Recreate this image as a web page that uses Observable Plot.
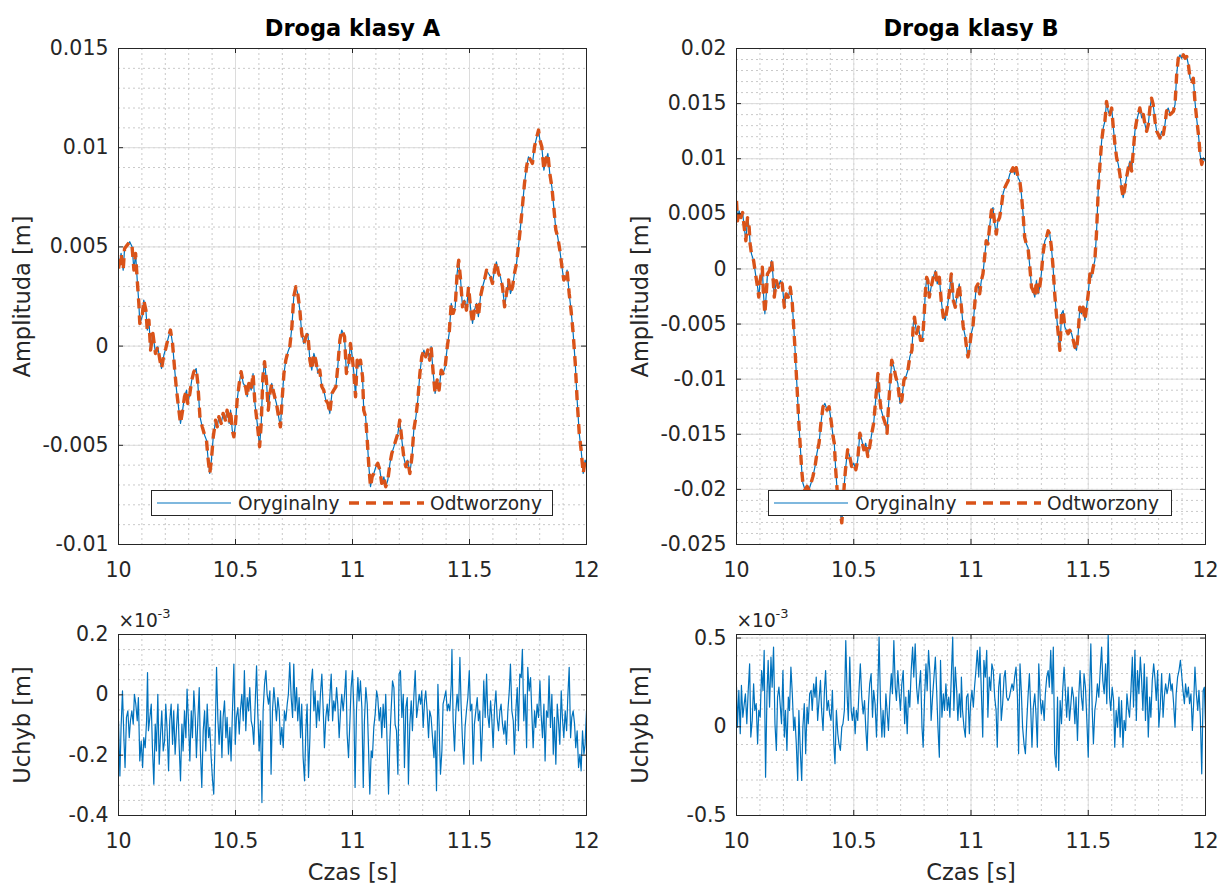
<!DOCTYPE html>
<html lang="pl">
<head>
<meta charset="utf-8">
<title>Droga klasy A i B – sygnał oryginalny, odtworzony i uchyb</title>
<script src="https://cdn.jsdelivr.net/npm/d3@7"></script>
<script src="https://cdn.jsdelivr.net/npm/@observablehq/plot@0.6"></script>
<style>
  html, body { margin: 0; background: #fff; }
  #figure { position: relative; width: 1219px; height: 884px; overflow: hidden; background: #fff; font-family: "DejaVu Sans", sans-serif; color: #262626; }
  #figure > svg { position: absolute; overflow: visible; }
  .legend { position: absolute; box-sizing: border-box; height: 26px; border: 1px solid #262626; background: #fff; }
  .legend svg { position: absolute; left: 0; top: 0; overflow: visible; }
</style>
</head>
<body>
<div id="figure"></div>
<script>
// ---- series names and axis ticks ----
const serie = ["Oryginalny", "Odtworzony"];
const tytuly = ["Droga klasy A", "Droga klasy B"];

const czasTicks = [10, 10.5, 11, 11.5, 12];
const czasTickLabels = ["10", "10.5", "11", "11.5", "12"];

// amplitude values are kept in millimetres; tick labels are given in metres
const amplitudaTicksA = [-10, -5, 0, 5, 10, 15];
const amplitudaLabelsA = ["-0.01", "-0.005", "0", "0.005", "0.01", "0.015"];
const amplitudaTicksB = [-25, -20, -15, -10, -5, 0, 5, 10, 15, 20];
const amplitudaLabelsB = ["-0.025", "-0.02", "-0.015", "-0.01", "-0.005", "0", "0.005", "0.01", "0.015", "0.02"];

// error values are in units of 1e-3 m
const uchybTicksA = [-0.4, -0.2, 0, 0.2];
const uchybLabelsA = ["-0.4", "-0.2", "0", "0.2"];
const uchybTicksB = [-0.5, 0, 0.5];
const uchybLabelsB = ["-0.5", "0", "0.5"];

// ---- road class A: time [s] and amplitude [mm] ----
const czasA = [
10.000,10.011,10.020,10.026,10.037,10.048,10.058,10.066,10.073,10.080,
10.087,10.091,10.101,10.108,10.117,10.123,10.130,10.137,10.147,10.158,
10.168,10.177,10.184,10.194,10.202,10.212,10.222,10.231,10.239,10.248,
10.258,10.265,10.274,10.282,10.291,10.296,10.305,10.313,10.322,10.332,
10.339,10.348,10.358,10.368,10.376,10.382,10.390,10.397,10.405,10.415,
10.422,10.429,10.439,10.447,10.457,10.464,10.473,10.479,10.486,10.493,
10.500,10.507,10.516,10.524,10.533,10.543,10.550,10.557,10.567,10.575,
10.583,10.593,10.603,10.610,10.617,10.624,10.632,10.640,10.647,10.655,
10.664,10.675,10.684,10.692,10.699,10.707,10.715,10.724,10.732,10.741,
10.749,10.758,10.766,10.775,10.783,10.792,10.801,10.809,10.818,10.826,
10.835,10.843,10.852,10.860,10.869,10.877,10.886,10.895,10.903,10.912,
10.920,10.929,10.937,10.946,10.954,
10.966,10.974,10.984,10.991,10.999,11.006,11.013,11.020,11.027,11.034,
11.043,11.048,11.056,11.063,11.070,11.077,11.084,11.091,11.100,11.108,
11.117,11.125,11.134,11.142,11.151,11.160,11.168,11.177,11.185,11.194,
11.202,11.211,11.219,11.228,11.236,11.245,11.254,11.262,11.271,11.279,
11.288,11.296,11.305,11.313,11.322,11.330,11.336,11.345,11.353,11.362,
11.370,11.379,11.387,11.396,11.405,11.413,11.422,11.430,11.439,11.447,
11.454,11.462,11.470,11.479,11.487,11.496,11.504,11.513,11.521,11.530,
11.538,11.547,11.556,11.564,11.573,11.581,11.590,11.598,11.607,11.615,
11.624,11.632,11.641,11.650,11.658,11.667,11.675,11.684,11.692,11.701,
11.709,11.718,11.726,11.735,11.744,11.752,11.761,11.769,11.778,11.786,
11.795,11.801,11.809,11.818,11.826,11.835,11.843,11.852,11.860,11.869,
11.877,11.886,11.895,11.903,11.912,11.917,11.926,11.934,11.943,11.952,
11.960,11.969,11.977,11.986,11.994,12.000];
const oryginalnyA = [
3.91,4.67,3.83,4.92,5.09,5.26,5.01,3.83,4.67,3.33,
2.15,1.14,1.48,2.32,1.81,0.81,1.31,-0.20,0.64,-0.37,
-0.03,-0.71,-1.13,-0.45,-0.12,0.39,0.81,0.13,-1.04,-2.22,
-3.23,-3.90,-3.23,-2.55,-2.22,-2.89,-2.39,-1.71,-1.29,-1.13,
-1.88,-3.56,-4.07,-4.49,-4.74,-5.58,-6.42,-5.75,-4.57,-3.73,
-4.07,-3.56,-3.90,-3.39,-3.73,-3.23,-3.90,-3.23,-4.23,-4.57,
-3.90,-2.72,-1.88,-1.29,-1.88,-2.05,-2.55,-1.88,-2.22,-1.38,
-2.89,-3.90,-5.07,-3.90,-1.55,-0.79,-1.71,-3.23,-2.39,-1.88,
-2.39,-2.89,-3.56,-4.07,-2.72,-1.38,-0.71,-0.29,-0.03,0.97,
2.49,2.99,2.65,1.81,0.64,0.13,0.47,0.64,-0.71,-1.21,
-0.37,-0.71,-1.38,-1.21,-2.05,-2.22,-2.72,-2.89,-3.39,-2.39,
-2.22,-2.05,-1.04,0.30,0.81,
0.47,-1.38,-0.87,0.13,-0.54,-1.38,-2.55,-0.71,-1.04,-0.71,
-1.55,-3.23,-3.56,-4.74,-6.08,-7.09,-6.59,-6.42,-6.08,-5.91,
-6.25,-6.92,-6.59,-7.09,-6.75,-5.91,-5.41,-5.07,-4.74,-4.40,
-3.73,-4.74,-5.58,-6.08,-5.75,-6.42,-5.58,-4.23,-3.56,-2.72,
-1.38,-0.54,-0.20,-0.54,-0.20,-0.71,-0.03,-1.38,-2.39,-1.71,
-2.22,-1.21,-1.38,-1.04,-0.03,0.64,2.15,1.65,1.98,3.66,
4.33,3.33,1.98,2.32,1.81,2.99,1.98,1.14,1.81,2.15,
1.48,2.49,2.99,3.33,3.83,3.66,3.49,3.16,3.83,4.25,
3.66,3.49,2.99,1.98,2.65,3.33,2.65,2.99,3.66,4.17,
5.01,6.01,7.02,8.20,9.04,9.54,9.38,9.21,10.05,10.47,
10.89,10.38,10.05,8.87,9.38,9.71,8.70,8.03,7.02,5.85,
5.51,4.84,4.00,3.33,3.49,3.83,2.65,1.81,0.64,-0.87,
-2.72,-4.40,-5.24,-6.42,-5.75,-5.91];
// the reconstruction follows the original to within the error plotted below
const odtworzonyA = oryginalnyA.slice();

// ---- road class B: time [s] and amplitude [mm] ----
const czasB = [
10.000,10.004,10.011,10.019,10.026,10.033,10.040,10.047,10.054,10.058,
10.064,10.073,10.081,10.090,10.095,10.101,10.110,10.115,10.121,10.127,
10.132,10.141,10.150,10.155,10.161,10.170,10.178,10.187,10.195,10.204,
10.212,10.221,10.229,10.238,10.244,10.249,10.255,10.261,10.266,10.272,
10.278,10.283,10.292,10.301,10.309,10.318,10.326,10.335,10.343,10.352,
10.360,10.369,10.377,10.386,10.395,10.403,10.412,10.417,10.423,10.429,
10.434,10.443,10.449,10.454,10.460,10.466,10.474,10.483,10.491,10.500,
10.509,10.517,10.526,10.534,10.543,10.551,10.560,10.568,10.577,10.585,
10.591,10.597,10.603,10.608,10.617,10.625,10.634,10.642,10.648,10.654,
10.662,10.671,10.679,10.688,10.697,10.705,10.714,10.722,10.731,10.739,
10.748,10.754,10.759,10.768,10.776,10.785,10.793,10.799,10.805,10.811,
10.816,10.822,10.830,10.839,10.848,10.856,10.865,10.873,10.882,10.890,
10.899,10.907,10.916,10.925,10.933,10.942,10.950,10.959,10.967,10.976,
10.984,
10.987,10.994,11.001,11.008,11.015,11.022,11.030,11.037,11.044,11.051,
11.058,11.065,11.072,11.079,11.087,11.094,11.101,11.108,11.115,11.122,
11.129,11.136,11.144,11.151,11.158,11.165,11.172,11.179,11.186,11.193,
11.201,11.208,11.215,11.222,11.229,11.236,11.243,11.251,11.258,11.265,
11.272,11.279,11.286,11.293,11.300,11.307,11.315,11.322,11.329,11.336,
11.343,11.350,11.357,11.364,11.372,11.379,11.386,11.393,11.400,11.407,
11.414,11.421,11.429,11.436,11.443,11.450,11.457,11.464,11.471,11.478,
11.486,11.493,11.500,11.507,11.514,11.521,11.528,11.535,11.543,11.550,
11.557,11.564,11.571,11.578,11.585,11.592,11.600,11.607,11.614,11.621,
11.628,11.635,11.642,11.649,11.656,11.663,11.671,11.678,11.685,11.692,
11.699,11.706,11.713,11.720,11.728,11.735,11.742,11.749,11.756,11.763,
11.770,11.777,11.785,11.792,11.799,11.806,11.813,11.820,11.827,11.834,
11.841,11.849,11.856,11.863,11.870,11.877,11.884,11.891,11.898,11.906,
11.913,11.920,11.927,11.934,11.941,11.948,11.955,11.962,11.970,11.977,
11.984,11.991,12.000];
const oryginalnyB = [
6.17,4.36,5.27,4.66,5.12,3.76,2.56,4.66,3.76,2.26,
1.35,0.75,-0.45,-1.66,-2.56,-1.06,0.15,-2.26,-4.07,-2.26,
-0.45,-0.15,0.75,-0.45,-2.56,-1.06,-1.66,-1.06,-1.36,-3.47,
-2.26,-2.56,-1.66,-3.16,-5.27,-7.08,-9.49,-11.90,-14.00,-16.11,
-18.22,-19.42,-20.03,-19.73,-20.03,-19.42,-18.82,-17.92,-16.71,-15.81,
-14.00,-12.50,-12.20,-12.80,-12.50,-13.70,-15.21,-15.81,-18.22,-20.03,
-21.23,-22.13,-23.04,-21.53,-19.42,-17.92,-16.41,-17.02,-17.92,-17.62,
-18.22,-17.32,-14.91,-15.51,-16.41,-15.81,-17.02,-16.11,-14.91,-14.00,
-12.50,-10.99,-9.49,-11.29,-12.80,-13.40,-14.00,-14.91,-12.50,-10.69,
-8.28,-8.89,-9.79,-10.39,-12.20,-11.90,-10.09,-9.79,-9.19,-7.98,
-7.38,-4.97,-4.37,-5.87,-5.27,-6.48,-6.48,-4.67,-2.26,-0.76,
-1.06,-2.56,-1.66,-0.76,-0.15,-1.36,-0.76,-2.86,-4.37,-4.67,
-3.47,-2.26,-0.45,-2.86,-3.47,-2.26,-1.36,-3.47,-5.27,-6.18,
-7.68,
-7.98,-7.08,-5.87,-5.27,-3.47,-1.66,-1.36,-2.26,-1.06,-0.45,
1.05,2.56,2.26,3.76,5.27,5.57,4.06,3.16,4.36,4.66,
5.57,6.77,7.37,7.68,7.98,8.58,8.88,9.18,8.58,9.18,
8.28,7.98,6.77,4.97,2.86,2.26,1.95,0.15,-1.66,-1.96,
-2.56,-1.06,-2.26,-1.66,-0.45,1.35,2.56,2.86,3.46,3.16,
1.95,0.15,-2.26,-4.07,-5.87,-7.38,-4.07,-3.77,-5.27,-5.57,
-5.87,-5.57,-5.87,-6.48,-7.08,-7.38,-5.87,-3.47,-4.07,-3.47,
-4.67,-3.47,-2.26,-0.45,-0.76,0.15,0.75,3.16,7.37,9.48,
11.59,12.79,13.40,15.20,14.30,14.00,14.60,12.79,11.29,10.08,
9.48,8.58,7.37,6.47,7.37,8.28,9.18,9.78,8.88,10.69,
12.49,13.40,14.00,14.60,13.70,14.00,13.10,12.49,13.10,14.60,
15.50,14.90,13.40,12.49,12.19,11.89,12.49,12.19,13.10,14.30,
14.60,14.00,14.15,14.30,14.90,17.61,19.12,19.42,19.12,19.42,
19.12,19.27,18.52,17.31,17.01,17.31,15.20,13.70,12.19,10.39,
9.48,10.08,9.78];
const odtworzonyB = oryginalnyB.slice();

// ---- error, class A: time [s] and value [1e-3 m] ----
const czasUchybA = [
10.000,10.006,10.011,10.017,10.023,10.028,10.034,10.040,10.046,10.051,
10.057,10.063,10.068,10.074,10.080,10.085,10.091,10.097,10.103,10.108,
10.114,10.120,10.124,10.128,10.134,10.140,10.145,10.151,10.157,10.162,
10.168,10.174,10.179,10.185,10.191,10.197,10.202,10.208,10.214,10.219,
10.225,10.231,10.236,10.242,10.248,10.254,10.259,10.265,10.271,10.276,
10.282,10.288,10.293,10.299,10.305,10.311,10.316,10.322,10.328,10.333,
10.339,10.345,10.350,10.356,10.362,10.368,10.373,10.379,10.385,10.390,
10.396,10.402,10.407,10.413,10.419,10.425,10.430,10.436,10.442,10.447,
10.453,10.459,10.464,10.470,10.476,10.481,10.487,10.493,10.499,10.504,
10.510,10.516,10.521,10.527,10.533,10.538,10.544,10.550,10.556,10.561,
10.567,10.573,10.578,10.584,10.590,10.595,10.601,10.607,10.613,10.618,
10.624,10.630,10.635,10.641,10.647,10.652,10.658,10.664,10.670,10.675,
10.681,10.687,10.692,10.698,10.704,10.709,10.715,10.721,10.726,10.732,
10.738,10.744,10.749,10.755,10.761,10.766,10.772,10.778,10.783,10.789,
10.795,10.801,10.806,10.812,10.818,10.823,10.829,10.835,10.840,10.846,
10.852,10.858,10.863,10.869,10.875,10.880,10.886,10.892,10.897,10.903,
10.909,10.915,10.920,10.926,10.932,10.937,10.943,10.949,10.954,
10.960,10.966,10.972,10.977,10.983,10.989,10.994,11.000,11.006,11.011,
11.017,11.023,11.028,11.034,11.040,11.046,11.051,11.057,11.063,11.068,
11.074,11.080,11.085,11.091,11.097,11.103,11.108,11.114,11.120,11.125,
11.131,11.137,11.142,11.148,11.154,11.160,11.165,11.171,11.177,11.182,
11.188,11.194,11.199,11.205,11.211,11.217,11.222,11.228,11.234,11.239,
11.245,11.251,11.256,11.262,11.268,11.274,11.279,11.285,11.291,11.296,
11.302,11.308,11.313,11.319,11.325,11.330,11.336,11.342,11.348,11.353,
11.359,11.365,11.370,11.376,11.382,11.387,11.393,11.399,11.405,11.410,
11.416,11.422,11.425,11.430,11.436,11.442,11.447,11.453,11.459,11.464,
11.470,11.476,11.481,11.487,11.493,11.499,11.504,11.510,11.516,11.521,
11.527,11.533,11.538,11.544,11.550,11.556,11.561,11.567,11.573,11.578,
11.584,11.590,11.595,11.601,11.607,11.613,11.618,11.624,11.630,11.635,
11.641,11.647,11.652,11.658,11.664,11.670,11.675,11.681,11.687,11.692,
11.698,11.704,11.709,11.715,11.721,11.726,11.732,11.738,11.744,11.749,
11.755,11.761,11.766,11.772,11.778,11.783,11.789,11.795,11.801,11.806,
11.812,11.818,11.823,11.829,11.835,11.840,11.846,11.852,11.858,11.863,
11.869,11.875,11.880,11.886,11.892,11.897,11.903,11.909,11.915,11.920,
11.926,11.932,11.937,11.943,11.949,11.954,11.960,11.966,11.972,11.977,
11.983,11.989,11.994,12.000];
const uchybA = [
-0.086,-0.269,-0.108,0.013,-0.142,-0.241,-0.075,-0.053,-0.142,-0.086,
-0.053,-0.097,0.002,-0.031,-0.086,-0.009,-0.219,-0.153,-0.241,-0.142,
-0.175,-0.086,0.074,-0.119,-0.075,-0.031,-0.175,-0.296,-0.097,-0.186,
0.002,-0.230,-0.142,-0.053,-0.186,-0.153,-0.031,-0.119,-0.252,-0.086,
-0.031,-0.164,-0.053,-0.197,-0.108,-0.031,-0.164,-0.285,-0.097,-0.186,
-0.053,-0.142,0.019,-0.086,-0.219,-0.053,-0.142,0.013,-0.075,-0.208,
-0.086,0.024,-0.186,-0.307,-0.119,-0.053,-0.186,-0.031,-0.142,-0.108,
-0.208,-0.285,-0.329,-0.142,0.091,-0.086,-0.164,-0.053,-0.208,-0.075,
-0.020,-0.142,-0.075,-0.197,-0.108,-0.219,-0.053,0.102,-0.164,-0.075,
-0.042,-0.130,-0.053,0.002,-0.086,0.080,-0.119,-0.009,-0.053,0.024,
-0.086,-0.108,-0.164,-0.031,0.096,-0.053,-0.186,-0.086,-0.357,-0.053,
0.035,0.080,0.002,-0.031,0.013,-0.263,-0.053,0.024,-0.031,-0.086,
-0.009,-0.053,-0.164,-0.108,-0.175,-0.053,-0.086,-0.031,0.002,0.107,
-0.009,-0.075,0.102,-0.053,0.024,-0.086,-0.009,-0.142,-0.031,-0.208,
-0.285,-0.108,-0.031,-0.274,-0.142,0.035,0.085,-0.053,0.013,-0.108,
-0.020,-0.086,0.002,0.069,-0.053,-0.175,-0.075,-0.031,-0.086,-0.009,
0.069,-0.086,-0.020,-0.053,0.024,-0.031,-0.142,-0.053,0.002,
-0.053,0.002,0.080,-0.130,-0.208,-0.086,0.024,0.080,-0.053,-0.307,
-0.053,0.057,-0.020,0.046,-0.042,-0.307,-0.086,0.024,-0.031,-0.164,
-0.329,-0.186,-0.208,-0.108,-0.064,0.013,-0.009,-0.086,-0.042,-0.142,
-0.031,-0.108,0.002,-0.164,-0.329,-0.142,-0.053,0.046,0.024,-0.097,
-0.119,-0.263,0.069,0.080,-0.075,0.002,-0.241,-0.042,-0.009,-0.296,
-0.097,-0.020,-0.119,-0.009,0.080,-0.075,-0.042,0.002,-0.031,0.013,
-0.108,-0.020,0.013,-0.053,-0.142,-0.053,-0.075,-0.142,-0.208,-0.119,
-0.318,0.035,-0.097,-0.263,-0.186,-0.031,-0.009,0.013,-0.053,-0.031,
-0.053,0.035,0.151,-0.086,-0.186,-0.053,0.002,-0.053,0.124,-0.031,
-0.153,-0.230,-0.108,-0.053,-0.009,0.080,-0.053,-0.031,-0.230,-0.097,
-0.053,-0.009,-0.086,-0.053,-0.219,-0.097,0.046,-0.075,0.069,-0.064,
-0.108,-0.020,-0.075,-0.175,-0.042,0.013,-0.075,-0.119,-0.053,-0.031,
-0.097,-0.130,-0.086,-0.164,-0.053,0.013,0.102,-0.053,-0.086,-0.197,
-0.053,0.024,-0.119,0.069,0.057,0.151,-0.086,0.002,-0.175,0.091,
0.013,0.057,-0.053,-0.175,-0.053,-0.108,-0.031,-0.075,0.046,-0.064,
-0.142,-0.031,-0.219,-0.053,-0.075,0.063,-0.108,0.002,-0.197,-0.075,
-0.230,-0.031,-0.086,-0.164,0.013,-0.075,-0.142,-0.053,-0.119,-0.009,
0.091,-0.142,-0.075,-0.053,-0.097,-0.175,-0.119,-0.241,-0.197,-0.252,
-0.119,-0.197,-0.164,-0.053];

// ---- error, class B: time [s] and value [1e-3 m] ----
const czasUchybB = [
10.000,10.004,10.010,10.016,10.021,10.027,10.033,10.038,10.044,10.050,
10.056,10.061,10.067,10.073,10.078,10.084,10.090,10.095,10.101,10.107,
10.113,10.118,10.124,10.130,10.135,10.141,10.147,10.152,10.158,10.164,
10.170,10.175,10.181,10.187,10.192,10.198,10.204,10.209,10.215,10.221,
10.226,10.232,10.238,10.244,10.249,10.255,10.261,10.266,10.272,10.278,
10.283,10.289,10.295,10.301,10.306,10.312,10.318,10.323,10.329,10.335,
10.340,10.346,10.352,10.358,10.363,10.369,10.375,10.380,10.386,10.392,
10.397,10.403,10.409,10.415,10.420,10.426,10.432,10.437,10.443,10.449,
10.454,10.460,10.466,10.472,10.477,10.483,10.489,10.494,10.500,10.506,
10.511,10.517,10.523,10.528,10.534,10.540,10.546,10.551,10.557,10.563,
10.568,10.574,10.580,10.585,10.591,10.597,10.603,10.608,10.614,10.620,
10.625,10.631,10.637,10.642,10.648,10.654,10.660,10.665,10.671,10.677,
10.682,10.688,10.694,10.699,10.705,10.711,10.717,10.722,10.728,10.734,
10.739,10.745,10.751,10.756,10.762,10.768,10.774,10.779,10.785,10.791,
10.796,10.802,10.808,10.813,10.819,10.825,10.830,10.836,10.842,10.848,
10.853,10.859,10.865,10.870,10.876,10.882,10.887,10.893,10.899,10.905,
10.910,10.916,10.922,10.927,10.933,10.939,10.944,10.950,10.956,10.959,
10.964,10.970,10.976,10.981,10.987,10.993,10.998,11.004,11.010,11.015,
11.021,11.027,11.033,11.038,11.044,11.050,11.055,11.061,11.067,11.072,
11.078,11.084,11.089,11.095,11.101,11.107,11.112,11.118,11.124,11.129,
11.135,11.141,11.146,11.152,11.158,11.164,11.169,11.175,11.181,11.186,
11.192,11.198,11.203,11.209,11.215,11.220,11.226,11.232,11.238,11.243,
11.249,11.255,11.260,11.266,11.272,11.277,11.283,11.289,11.295,11.300,
11.306,11.312,11.317,11.323,11.329,11.334,11.340,11.346,11.351,11.357,
11.363,11.369,11.374,11.380,11.386,11.391,11.397,11.403,11.408,11.414,
11.420,11.426,11.431,11.437,11.443,11.448,11.454,11.460,11.465,11.471,
11.477,11.482,11.488,11.494,11.500,11.505,11.511,11.517,11.522,11.528,
11.534,11.539,11.545,11.551,11.557,11.562,11.568,11.574,11.579,11.585,
11.591,11.596,11.602,11.608,11.613,11.619,11.625,11.631,11.636,11.642,
11.648,11.653,11.659,11.665,11.670,11.676,11.682,11.688,11.693,11.699,
11.705,11.710,11.716,11.722,11.727,11.733,11.739,11.744,11.750,11.756,
11.762,11.767,11.773,11.779,11.784,11.790,11.796,11.801,11.807,11.813,
11.819,11.824,11.830,11.836,11.841,11.847,11.853,11.858,11.864,11.870,
11.875,11.881,11.887,11.893,11.898,11.904,11.910,11.915,11.921,11.927,
11.932,11.938,11.944,11.950,11.955,11.961,11.967,11.972,11.978,11.984,
11.990,11.995,12.000];
const uchybB = [
0.223,-0.002,0.205,-0.039,0.233,0.054,0.130,0.186,0.017,0.205,
0.355,-0.058,0.036,0.242,0.092,0.130,-0.096,0.092,0.054,0.317,
0.205,0.430,-0.284,0.186,0.374,0.111,0.392,0.223,0.449,0.017,
-0.133,0.167,0.223,0.111,0.017,0.317,-0.058,0.092,-0.133,0.167,
0.092,0.336,0.186,-0.021,0.054,-0.096,-0.302,0.092,-0.133,-0.302,
-0.002,0.130,-0.152,0.111,0.017,0.186,0.205,0.092,0.242,0.167,
0.280,0.036,0.148,0.261,0.092,-0.021,0.205,0.317,0.092,0.148,
0.073,0.036,0.205,-0.096,-0.208,0.092,-0.039,-0.096,-0.133,-0.002,
0.017,0.092,0.486,0.167,0.036,0.392,0.092,0.036,0.111,-0.039,
0.092,0.036,0.223,0.355,0.167,0.073,0.148,-0.002,-0.133,0.130,
0.242,0.299,0.054,0.205,0.130,-0.058,0.223,0.505,0.130,-0.058,
0.092,-0.058,0.186,0.092,-0.021,0.167,0.299,0.186,0.486,0.223,
0.148,0.317,0.186,0.092,0.242,0.317,0.017,0.167,-0.039,0.205,
0.111,0.317,0.449,0.280,0.468,0.223,0.130,0.223,0.317,-0.002,
-0.115,0.167,0.355,0.205,0.430,0.299,0.036,0.167,0.280,0.392,
0.223,-0.002,-0.171,0.374,0.054,0.186,0.092,0.242,0.092,0.167,
0.054,0.280,0.505,0.092,0.336,0.205,0.036,0.186,0.054,0.280,
0.092,-0.002,-0.058,0.167,0.186,-0.039,0.130,0.205,0.111,0.223,
0.317,0.430,0.280,0.449,0.205,-0.058,0.374,0.280,0.430,0.054,
0.280,0.205,0.355,0.317,0.167,0.092,-0.115,0.223,0.299,0.036,
0.130,0.280,0.317,0.167,0.148,0.167,0.205,0.242,0.205,0.280,
0.336,0.167,-0.152,0.355,0.186,-0.002,-0.096,-0.152,0.036,0.167,
0.299,0.092,-0.115,0.111,0.186,0.073,-0.115,0.355,0.167,0.073,
0.148,0.036,0.186,0.280,0.317,0.223,0.430,0.186,0.449,-0.152,
-0.227,0.167,-0.246,0.148,0.017,0.205,0.336,0.186,0.054,0.223,
0.036,0.130,0.223,0.167,0.017,0.167,-0.077,0.186,0.317,0.167,
0.092,0.299,0.223,0.036,-0.171,0.167,0.468,0.092,-0.096,0.092,
0.148,0.242,0.167,0.317,0.449,0.261,0.186,0.355,0.130,0.515,
0.167,0.092,0.223,0.148,-0.115,0.092,-0.002,0.167,-0.058,0.148,
-0.115,0.036,-0.021,0.186,0.111,0.054,0.205,0.392,0.111,0.430,
0.036,0.317,0.186,0.392,0.280,0.092,0.355,0.036,0.280,-0.058,
0.167,0.054,0.261,0.355,0.280,0.148,0.317,-0.002,0.111,0.299,
0.054,0.167,0.242,0.186,0.223,0.299,0.205,0.242,0.130,-0.002,
0.186,0.280,0.317,0.374,0.299,0.205,0.130,0.242,0.167,0.223,
0.130,0.186,-0.021,0.148,0.336,0.186,0.092,0.205,0.054,-0.265,
0.205,0.223,0.017];

// ---- styling ----
const TEXT = "#262626";
const BLUE = "#0072BD";
const ORANGE = "#D95319";
const FONT = "DejaVu Sans";
const TICK_FONT = 20.5;
const LEGEND_FONT = 18.6;
const LABEL_FONT = 22.5;
const DASH = "10,7";

const rows = (t, v) => t.map((x, i) => ({t: x, v: v[i]}));
const labelFor = (ticks, labels) => d => labels[ticks.findIndex(t => Math.abs(t - d) < 1e-9)];

function oryginalnyLine(data) {
  return Plot.line(data, {x: "t", y: "v", stroke: BLUE, strokeWidth: 1.2, clip: true});
}
function odtworzonyLine(data) {
  return Plot.line(data, {x: "t", y: "v", stroke: ORANGE, strokeWidth: 3.4, strokeDasharray: DASH, strokeLinecap: "butt", clip: true});
}

// one MATLAB-style axes box: minor/major grid, inward ticks on all sides
function axesPanel(o) {
  const innerW = o.width - o.marginLeft - o.marginRight;
  const innerH = o.height - o.marginTop - o.marginBottom;
  const xMinor = d3.range(10, 12.0001, 0.1);
  const yMinor = d3.range(o.yDomain[0], o.yDomain[1] + 1e-9, o.yMinorStep);
  const minor = {stroke: "#c9c9c9", strokeOpacity: 1, strokeWidth: 1, strokeDasharray: "2,3"};
  const major = {stroke: "#dcdcdc", strokeOpacity: 1, strokeWidth: 1};
  const label = {text: d => d, lineAnchor: "middle", fill: TEXT};
  const marks = [
    Plot.gridX(xMinor, minor),
    Plot.gridY(yMinor, minor),
    Plot.gridX(czasTicks, major),
    Plot.gridY(o.yTicks, major),
    ...o.lines,
    Plot.frame({stroke: TEXT, strokeWidth: 1}),
    Plot.tickX(czasTicks, {x: d => d, stroke: TEXT, insetTop: innerH - 5}),
    Plot.tickX(czasTicks, {x: d => d, stroke: TEXT, insetBottom: innerH - 5}),
    Plot.tickY(o.yTicks, {y: d => d, stroke: TEXT, insetRight: innerW - 5}),
    Plot.tickY(o.yTicks, {y: d => d, stroke: TEXT, insetLeft: innerW - 5}),
    Plot.axisX(czasTicks, {tickSize: 0, tickPadding: 18, tickFormat: labelFor(czasTicks, czasTickLabels), label: null, fontSize: TICK_FONT}),
    Plot.axisY(o.yTicks, {tickSize: 0, tickPadding: 10, tickFormat: labelFor(o.yTicks, o.yLabels), label: null, fontSize: TICK_FONT}),
    Plot.text([o.yTitle], {...label, frameAnchor: "left", textAnchor: "middle", dx: -96, rotate: -90, fontSize: LABEL_FONT})
  ];
  if (o.title) marks.push(Plot.text([o.title], {...label, frameAnchor: "top", textAnchor: "middle", dy: -20, fontWeight: "bold", fontSize: LABEL_FONT, fill: "#000"}));
  if (o.xTitle) marks.push(Plot.text([o.xTitle], {...label, frameAnchor: "bottom", textAnchor: "middle", dy: 57, fontSize: LABEL_FONT}));
  if (o.exponent) {
    marks.push(Plot.text(["×10"], {...label, frameAnchor: "top-left", textAnchor: "start", dy: -13, fontSize: LEGEND_FONT}));
    marks.push(Plot.text([o.exponent], {...label, frameAnchor: "top-left", textAnchor: "start", dx: 39, dy: -21, fontSize: 13}));
  }
  const svg = Plot.plot({
    width: o.width, height: o.height,
    marginLeft: o.marginLeft, marginRight: o.marginRight, marginTop: o.marginTop, marginBottom: o.marginBottom,
    style: {fontFamily: FONT, fontSize: TICK_FONT + "px", color: TEXT, background: "transparent", overflow: "visible"},
    x: {domain: [10, 12], label: null},
    y: {domain: o.yDomain, label: null},
    marks
  });
  svg.style.left = o.left + "px";
  svg.style.top = o.top + "px";
  return svg;
}

function legendBox(left, top, width) {
  const el = document.createElement("div");
  el.className = "legend";
  el.style.left = left + "px";
  el.style.top = top + "px";
  el.style.width = width + "px";
  el.innerHTML = `<svg width="${width}" height="26" font-family="${FONT}" font-size="${LEGEND_FONT}" fill="${TEXT}">
    <line x1="5" x2="79" y1="12" y2="12" stroke="${BLUE}" stroke-width="1.2"/>
    <text x="86" y="18.5">${serie[0]}</text>
    <line x1="197" x2="272" y1="12" y2="12" stroke="${ORANGE}" stroke-width="3.4" stroke-dasharray="${DASH}"/>
    <text x="278" y="18.5">${serie[1]}</text>
  </svg>`;
  return el;
}

const fig = document.getElementById("figure");
const topGeom = {width: 600, height: 590, marginRight: 14, marginTop: 48, marginBottom: 46, top: 0};
const botGeom = {width: 600, height: 294, marginRight: 14, marginTop: 44, marginBottom: 69, top: 590};

fig.append(axesPanel({
  ...topGeom, left: 0, marginLeft: 118,
  yDomain: [-10, 15], yTicks: amplitudaTicksA, yLabels: amplitudaLabelsA, yMinorStep: 1,
  title: tytuly[0], yTitle: "Amplituda [m]",
  lines: [oryginalnyLine(rows(czasA, oryginalnyA)), odtworzonyLine(rows(czasA, odtworzonyA))]
}));
fig.append(axesPanel({
  ...topGeom, width: 609, left: 610, marginLeft: 126,
  yDomain: [-25, 20], yTicks: amplitudaTicksB, yLabels: amplitudaLabelsB, yMinorStep: 1,
  title: tytuly[1], yTitle: "Amplituda [m]",
  lines: [oryginalnyLine(rows(czasB, oryginalnyB)), odtworzonyLine(rows(czasB, odtworzonyB))]
}));
fig.append(axesPanel({
  ...botGeom, left: 0, marginLeft: 118,
  yDomain: [-0.4, 0.2], yTicks: uchybTicksA, yLabels: uchybLabelsA, yMinorStep: 0.05,
  yTitle: "Uchyb [m]", xTitle: "Czas [s]", exponent: "-3",
  lines: [oryginalnyLine(rows(czasUchybA, uchybA))]
}));
fig.append(axesPanel({
  ...botGeom, width: 609, left: 610, marginLeft: 126,
  yDomain: [-0.5, 0.52], yTicks: uchybTicksB, yLabels: uchybLabelsB, yMinorStep: 0.1,
  yTitle: "Uchyb [m]", xTitle: "Czas [s]", exponent: "-3",
  lines: [oryginalnyLine(rows(czasUchybB, uchybB))]
}));

fig.append(legendBox(151, 490, 402));
fig.append(legendBox(768, 490, 404));
</script>
</body>
</html>
